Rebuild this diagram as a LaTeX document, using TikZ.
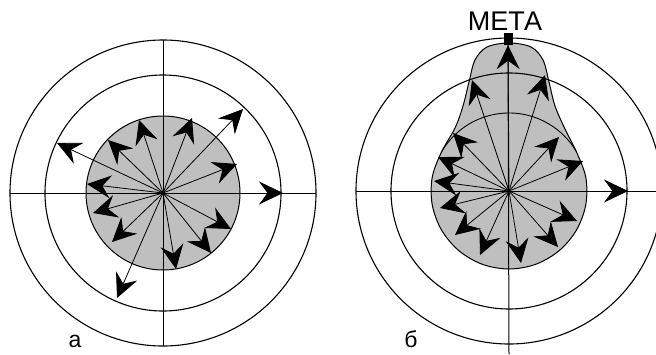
\documentclass[tikz,border=0pt]{standalone}
\usepackage{fontspec}
\setmainfont{Liberation Sans}
\usetikzlibrary{arrows.meta}
\tikzset{
  ring/.style={draw=black, line width=1.1pt},
  axisline/.style={draw=black, line width=1pt},
  outline/.style={draw=black, line width=1pt},
  vec/.style={draw=black, line width=0.8pt, -{Stealth[length=24pt,width=23pt,inset=8.5pt]}},
  shade/.style={fill=black!25},
  lbl/.style={font=\fontsize{23}{23}\selectfont, inner sep=0pt, anchor=base},
  bigl/.style={font=\fontsize{27}{27}\selectfont, inner sep=0pt, anchor=base},
}
\begin{document}
\begin{tikzpicture}[x=1pt,y=-1pt]
\useasboundingbox (0,0) rectangle (656,354);
\clip (0,0) rectangle (656,354);
\fill[white] (0,0) rectangle (656,354);
% ---------- left diagram (a)
\coordinate (A) at (163,193);
\fill[shade] (A) circle[radius=77];
\draw[ring] (A) circle[radius=118];
\draw[ring] (A) circle[radius=153];
\draw[outline] (A) circle[radius=77];
\coordinate (AL) at (10,193);
\coordinate (AR) at (316,193);
\coordinate (AT) at (163,40);
\coordinate (AB) at (163,346);
\draw[axisline] (AL) -- (AR);
\draw[axisline] (AT) -- (AB);
\foreach \x/\y [count=\i] in {243/109, 237/164, 192/118, 139/120, 108/140, 57/143, 87/184, 93/213, 112/242, 117/298, 176/269, 211/253, 231/229, 283/193}
  \coordinate (a\i) at (\x,\y);
\foreach \i in {1,...,14}
  \draw[vec] (A) -- (a\i);
\node[lbl] (la) at (75,347) {а};
% ---------- right diagram (b)
\coordinate (B) at (509,191);
\fill[shade] plot[smooth cycle, tension=0.55] coordinates {
  (441.5,152) (432.2,177.4) (432.2,204.6) (441.5,230) (458.9,250.7) (482.3,264.3)
  (509,269) (535.7,264.3) (559.1,250.7) (576.5,230) (585.8,204.6) (585.8,177.4)
  (576.5,152) (565,129) (555,106) (549,82) (543,60) (531,47) (509,43) (487,47)
  (475,60) (469,82) (463,106) (455,128)};
\draw[ring] (B) circle[radius=118];
\draw[ring] (B) circle[radius=153];
\draw[outline] plot[smooth cycle, tension=0.55] coordinates {
  (441.5,152) (432.2,177.4) (432.2,204.6) (441.5,230) (458.9,250.7) (482.3,264.3)
  (509,269) (535.7,264.3) (559.1,250.7) (576.5,230) (585.8,204.6) (585.8,177.4)
  (576.5,152) (565,129) (555,106) (549,82) (543,60) (531,47) (509,43) (487,47)
  (475,60) (469,82) (463,106) (455,128)};
\draw[line width=0.9pt] (441.5,152) arc[start angle=-150, end angle=-30, radius=78];
\coordinate (BL) at (356,191);
\coordinate (BR) at (656,191);
\coordinate (BB) at (509,354);
\node[fill=black, minimum width=9pt, minimum height=12pt, inner sep=0pt] (sq) at (508,39) {};
\draw[axisline] (BL) -- (BR);
\draw[axisline] (sq.south) -- (BB);
\foreach \x/\y [count=\i] in {472/80, 545/75, 453/133, 438/157, 434/181, 440/208, 455/235, 480/255, 521/263, 558/247, 577/221, 583/161, 559/137, 628/191}
  \coordinate (b\i) at (\x,\y);
\foreach \i in {1,...,14}
  \draw[vec] (B) -- (b\i);
\draw[vec] (B) -- (sq.south);
\node[bigl] (meta) at (505,30) {МЕТА};
\node[lbl] (lb) at (411,347) {б};
\end{tikzpicture}
\end{document}
